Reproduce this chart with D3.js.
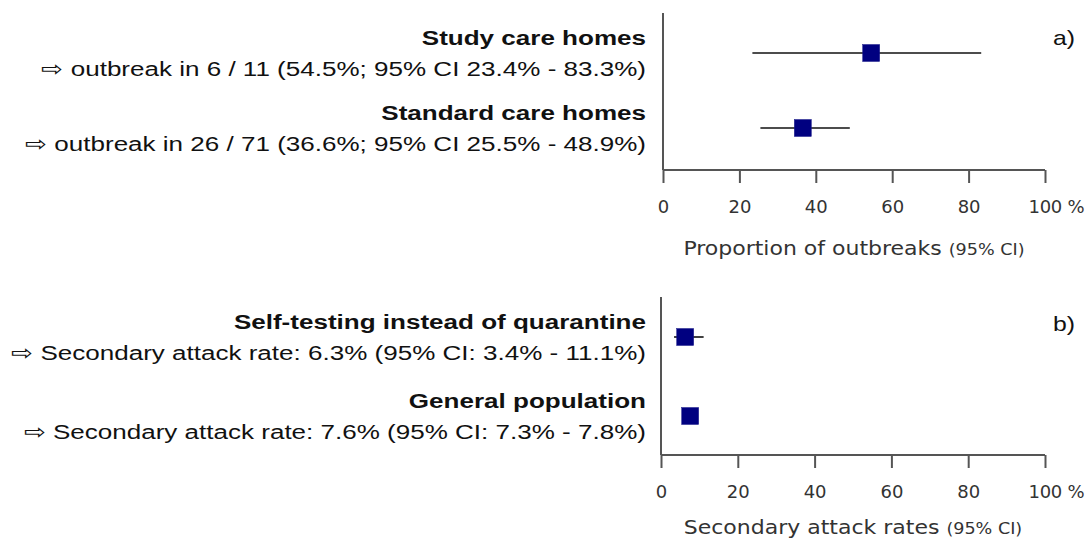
<!DOCTYPE html>
<html>
<head>
<meta charset="utf-8">
<style>
  body { margin: 0; background: #fff; }
  .lab { font-family: "Liberation Sans", Arial, sans-serif; fill: #111; }
  .lab.bold { font-weight: bold; }
  .axis text { font-family: "DejaVu Sans", Verdana, sans-serif; font-size: 18px; fill: #333; }
  .axis path, .axis line { stroke: #555; stroke-width: 2px; }
  .ttl { font-family: "DejaVu Sans", Verdana, sans-serif; fill: #333; }
</style>
</head>
<body>
<svg id="chart" width="1090" height="541"></svg>
<script src="https://cdn.jsdelivr.net/npm/d3@7/dist/d3.min.js"></script>
<script>
// panel a
var aNames = ["Study care homes", "Standard care homes"];
var aNotes = ["\u21E8 outbreak in 6 / 11 (54.5%; 95% CI 23.4% - 83.3%)",
              "\u21E8 outbreak in 26 / 71 (36.6%; 95% CI 25.5% - 48.9%)"];
var aEst = [54.5, 36.6];
var aLow = [23.4, 25.5];
var aHigh = [83.3, 48.9];

// panel b
var bNames = ["Self-testing instead of quarantine", "General population"];
var bNotes = ["\u21E8 Secondary attack rate: 6.3% (95% CI: 3.4% - 11.1%)",
              "\u21E8 Secondary attack rate: 7.6% (95% CI: 7.3% - 7.8%)"];
var bEst = [6.3, 7.6];
var bLow = [3.4, 7.3];
var bHigh = [11.1, 7.8];

var ticks = [0, 20, 40, 60, 80, 100];

var svg = d3.select("#chart");
var stretch = 1.24; // the labels in the source are drawn wide

function label(g, x, y, size, cls, txt) {
  g.append("text").attr("class", cls)
    .attr("transform", "translate(" + x + "," + y + ") scale(" + stretch + ",1)")
    .attr("text-anchor", "end").attr("font-size", size + "px").text(txt);
}

function panel(opt) {
  var g = svg.append("g");
  var x = d3.scaleLinear().domain([0, 100]).range([opt.x0, 1045]);
  var y = d3.scalePoint().domain(opt.names).range([opt.p0, opt.p1]);

  g.append("line")
    .attr("x1", opt.x0).attr("x2", opt.x0)
    .attr("y1", opt.top).attr("y2", opt.axisY)
    .attr("stroke", "#555").attr("stroke-width", 2);

  var ax = g.append("g").attr("class", "axis")
    .attr("transform", "translate(0," + opt.axisY + ")")
    .call(d3.axisBottom(x).tickValues(ticks).tickSize(13).tickSizeOuter(0)
      .tickFormat(function(d) { return d === 100 ? "100 %" : d; }));
  ax.select(".domain").attr("d", "M" + opt.x0 + ",0H1045");
  ax.selectAll(".tick text").attr("y", 30).attr("dy", "0.71em");
  ax.selectAll(".tick").filter(function(d) { return d === 100; }).select("text")
    .attr("text-anchor", "start").attr("x", -17).attr("letter-spacing", "-0.3px");

  var t = g.append("text").attr("class", "ttl")
    .attr("transform", "translate(" + (opt.x0 + 1045) / 2 + "," + (opt.axisY + opt.titleDy) + ") scale(1.1,1)")
    .attr("text-anchor", "middle");
  t.append("tspan").attr("font-size", "20px").text(opt.title + " ");
  t.append("tspan").attr("font-size", "16px").text("(95% CI)");

  label(g, 1075, opt.tagY, 20, "lab", opt.tag);

  opt.names.forEach(function(n, i) {
    var cy = y(n);
    label(g, 646, cy - 8.5, 21, "lab bold", n);
    label(g, 646, cy + 23, 21, "lab", opt.notes[i]);
    g.append("line")
      .attr("x1", x(opt.low[i])).attr("x2", x(opt.high[i]))
      .attr("y1", cy).attr("y2", cy)
      .attr("stroke", "#111").attr("stroke-width", 1.6);
    g.append("rect")
      .attr("x", x(opt.est[i]) - 8.5).attr("y", cy - 8.5)
      .attr("width", 17).attr("height", 17)
      .attr("fill", "#000080").attr("stroke", "#1a1a8a").attr("stroke-width", 0.5);
  });
}

panel({names: aNames, notes: aNotes, est: aEst, low: aLow, high: aHigh,
       x0: 663, top: 13, axisY: 170, p0: 53, p1: 128, tagY: 45, titleDy: 85,
       title: "Proportion of outbreaks", tag: "a)"});
panel({names: bNames, notes: bNotes, est: bEst, low: bLow, high: bHigh,
       x0: 661, top: 297, axisY: 455, p0: 337, p1: 416, tagY: 331, titleDy: 79,
       title: "Secondary attack rates", tag: "b)"});
</script>
</body>
</html>
